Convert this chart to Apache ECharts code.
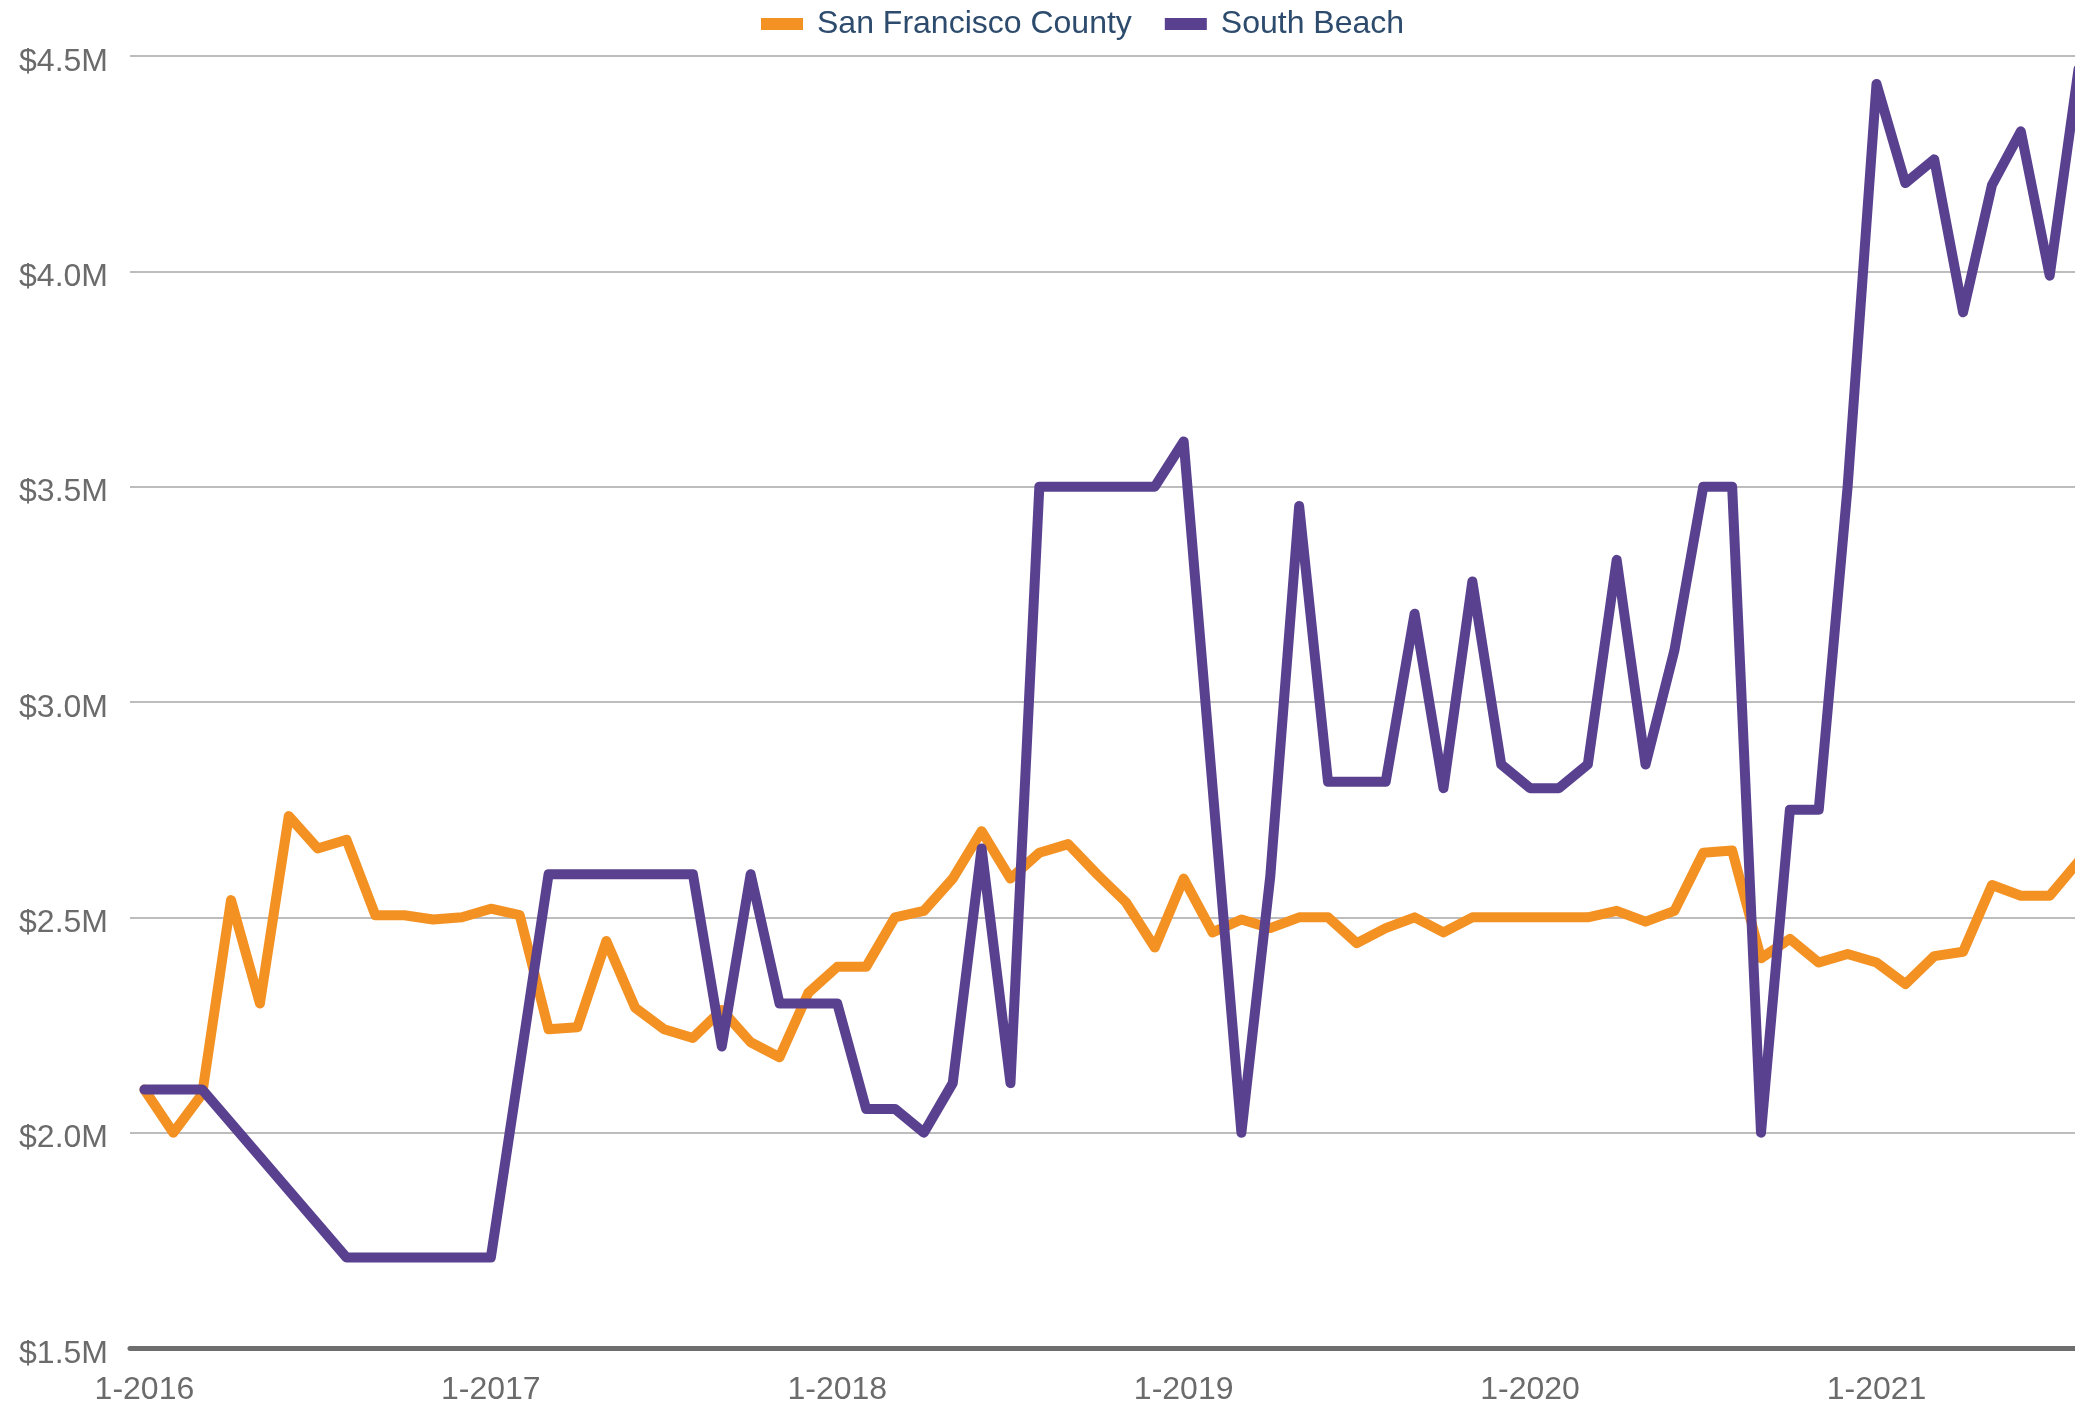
<!DOCTYPE html>
<html>
<head>
<meta charset="utf-8">
<title>San Francisco County vs South Beach</title>
<script src="https://cdn.jsdelivr.net/npm/echarts@6/dist/echarts.min.js"></script>
<style>
  html, body { margin: 0; padding: 0; background: #fff; overflow: hidden; }
  /* plot runs a little past the right edge of the window, like the original */
  #chartLine { width: 2093px; height: 1406px; }
</style>
</head>
<body>
<div id="chartLine"></div>
<script>
// months shown: 1-2016 .. 8-2021
var years = [2016, 2017, 2018, 2019, 2020, 2021];
var lastMonth = 8;

var months = [];
years.forEach(function (y) {
  for (var m = 1; m <= 12; m++) {
    if (y === 2021 && m > lastMonth) break;
    months.push(m + '-' + y);
  }
});

// median price, $M
var sfCounty = [
  2.10, 2.00, 2.09, 2.54, 2.30, 2.735, 2.66, 2.68, 2.505, 2.505, 2.495, 2.50,
  2.52, 2.505, 2.24, 2.245, 2.445, 2.29, 2.24, 2.22, 2.285, 2.21, 2.175, 2.325,
  2.385, 2.385, 2.50, 2.515, 2.59, 2.70, 2.59, 2.65, 2.67, 2.60, 2.535, 2.43,
  2.59, 2.465, 2.495, 2.475, 2.50, 2.50, 2.44, 2.475, 2.50, 2.465, 2.50, 2.50,
  2.50, 2.50, 2.50, 2.515, 2.49, 2.515, 2.65, 2.655, 2.405, 2.45, 2.395, 2.415,
  2.395, 2.345, 2.41, 2.42, 2.575, 2.55, 2.55, 2.63
];

var southBeach = [
  2.10, 2.10, 2.10, null, null, null, null, 1.71, 1.71, 1.71, 1.71, 1.71,
  1.71, null, 2.60, 2.60, 2.60, 2.60, 2.60, 2.60, 2.20, 2.60, 2.30, 2.30,
  2.30, 2.055, 2.055, 2.00, 2.115, 2.66, 2.115, 3.50, 3.50, 3.50, 3.50, 3.50,
  3.605, null, 2.00, 2.595, 3.455, 2.815, 2.815, 2.815, 3.205, 2.80, 3.28, 2.855,
  2.80, 2.80, 2.855, 3.33, 2.855, 3.12, 3.50, 3.50, 2.00, 2.75, 2.75, 3.50,
  4.435, 4.205, 4.26, 3.905, 4.20, 4.325, 3.99, 4.47
];

var yMin = 1.5, yMax = 4.5, yStep = 0.5;

var FONT = '"Liberation Sans", Arial, sans-serif';

var chart = echarts.init(document.getElementById('chartLine'));
chart.setOption({
  animation: false,
  color: ['#f39123', '#594190'],
  legend: {
    data: ['San Francisco County', 'South Beach'],
    left: 756,
    top: 3,
    icon: 'rect',
    itemWidth: 42,
    itemHeight: 12,
    itemGap: 33,
    textStyle: {
      fontFamily: FONT,
      fontSize: 32,
      color: '#2d4b6d',
      padding: [0, 0, 0, 9]
    }
  },
  grid: {
    left: 130,
    right: 0,
    top: 56,
    bottom: 47,
    containLabel: false
  },
  xAxis: {
    type: 'category',
    data: months,
    boundaryGap: true,
    axisLine: {
      lineStyle: { color: '#6e6e6e', width: 5 }
    },
    axisTick: {
      alignWithLabel: true,
      interval: 11,
      length: 12,
      lineStyle: { color: '#6e6e6e', width: 5 }
    },
    axisLabel: {
      interval: 11,
      margin: 26,
      fontFamily: FONT,
      fontSize: 32,
      color: '#6b6b6b'
    },
    splitLine: { show: false }
  },
  yAxis: {
    type: 'value',
    min: yMin,
    max: yMax,
    interval: yStep,
    axisLine: { show: false },
    axisTick: { show: false },
    axisLabel: {
      margin: 22,
      verticalAlign: 'top',
      lineHeight: 12,
      fontFamily: FONT,
      fontSize: 32,
      color: '#6b6b6b',
      formatter: function (v) { return '$' + v.toFixed(1) + 'M'; }
    },
    splitLine: {
      lineStyle: { color: '#bdbdbd', width: 2 }
    }
  },
  series: [
    {
      name: 'San Francisco County',
      type: 'line',
      data: sfCounty,
      showSymbol: false,
      connectNulls: true,
      lineStyle: { width: 10, cap: 'round', join: 'round' }
    },
    {
      name: 'South Beach',
      type: 'line',
      data: southBeach,
      showSymbol: false,
      connectNulls: true,
      lineStyle: { width: 10, cap: 'round', join: 'round' }
    }
  ]
});
</script>
</body>
</html>
